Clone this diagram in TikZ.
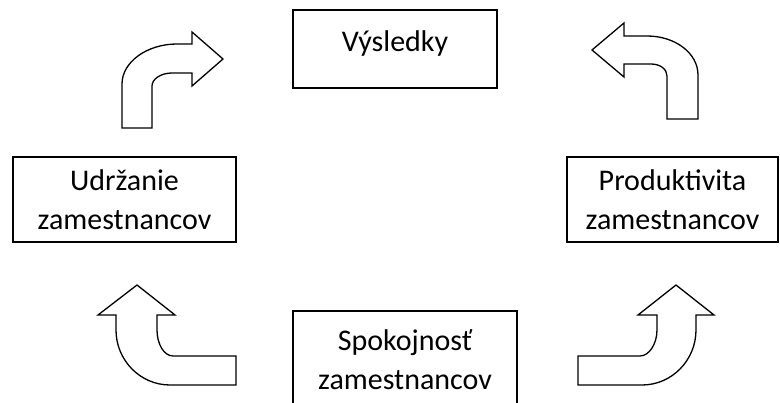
\documentclass[tikz,border=0pt]{standalone}
\usepackage{fontspec}
\setmainfont{Carlito}
\tikzset{
	box/.style={draw, line width=1.5pt, align=center, inner sep=0pt},
	blockarrow/.style={draw, line width=1.3pt, line join=miter, fill=white}
}
\begin{document}
\begin{tikzpicture}[x=1pt, y=-1pt, font=\fontsize{30}{39}\selectfont]
		\useasboundingbox (0, 0) rectangle (780, 403);

		\node[box, minimum width=204pt, minimum height=78pt, text depth=15pt] (vysledky) at (395, 49) {Výsledky};
		\node[box, minimum width=223pt, minimum height=85pt] (udrzanie) at (124.5, 199.5) {Udržanie\\zamestnancov};
		\node[box, minimum width=211pt, minimum height=85pt] (produktivita) at (672.5, 199.5) {Produktivita\\zamestnancov};

		\draw[line width=1.5pt] (293, 404) --
		(293, 311) --
		(517, 311) --
		(517, 404);
		\node[align=center] (spokojnost) at (405, 360) {Spokojnosť\\zamestnancov};

		% hore vlavo
		\draw[blockarrow] (122, 128) --
		(122, 84) .. controls (122, 62) and (147, 44) .. (177, 44) --
		(192, 44) --
		(192, 32) --
		(223, 59) --
		(192, 86) --
		(192, 73) --
		(172, 73) .. controls (161, 73) and (152, 79) .. (152, 86) --
		(152, 128) --
		cycle;

		% hore vpravo
		\draw[blockarrow] (592, 50) --
		(624, 23) --
		(624, 36) --
		(647, 36) .. controls (675, 36) and (698, 53) .. (698, 75) --
		(698, 119) --
		(667, 119) --
		(667, 76) .. controls (667, 69) and (660, 64) .. (651, 64) --
		(624, 64) --
		(624, 77) --
		cycle;

		% dole vlavo
		\draw[blockarrow] (137, 285) --
		(175, 315) --
		(157, 315) --
		(157, 330) .. controls (157, 344) and (164, 356) .. (173, 356) --
		(236, 356) --
		(236, 385) --
		(170, 385) .. controls (140, 385) and (116, 360) .. (116, 330) --
		(116, 315) --
		(98, 315) --
		cycle;

		% dole vpravo
		\draw[blockarrow] (676, 285) --
		(714, 315) --
		(696, 315) --
		(696, 330) .. controls (696, 360) and (672, 385) .. (642, 385) --
		(578, 385) --
		(578, 356) --
		(640, 356) .. controls (649, 356) and (657, 344) .. (657, 330) --
		(657, 315) --
		(638, 315) --
		cycle;
	\end{tikzpicture}
\end{document}
